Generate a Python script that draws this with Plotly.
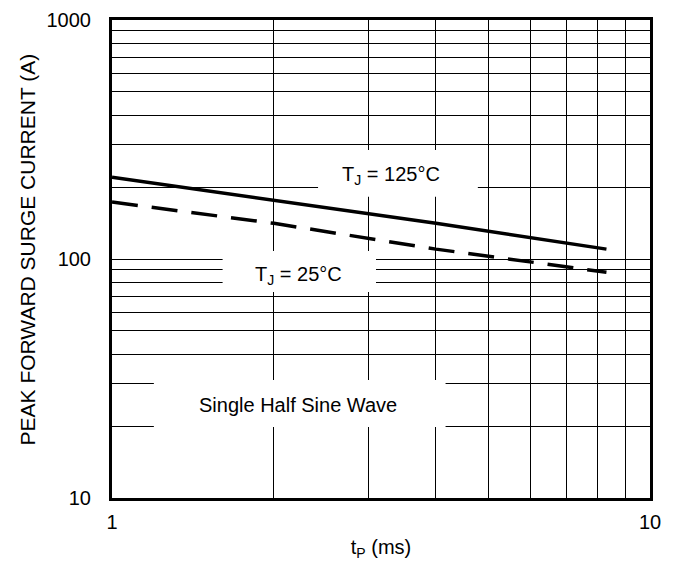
import plotly.graph_objects as go

# Data
tp_ms = [1, 2, 4, 8.3]
i_125 = [220, 176, 141, 110]
i_25 = [173, 141, 110, 88]

x_tickvals = [1, 2, 3, 4, 5, 6, 7, 8, 9, 10]
x_ticktext = ["1", "", "", "", "", "", "", "", "", "10"]
y_tickvals = [10, 20, 30, 40, 50, 60, 70, 80, 90,
              100, 200, 300, 400, 500, 600, 700, 800, 900, 1000]
y_ticktext = ["10", "", "", "", "", "", "", "", "",
              "100", "", "", "", "", "", "", "", "", "1000"]

FONT = "Arial, Liberation Sans, sans-serif"

fig = go.Figure()
fig.add_trace(go.Scatter(x=tp_ms, y=i_125, mode="lines",
                         line=dict(color="black", width=3.5), showlegend=False))
fig.add_trace(go.Scatter(x=tp_ms, y=i_25, mode="lines",
                         line=dict(color="black", width=3.5, dash="26px,14px"),
                         showlegend=False))

# white boxes behind labels (cover gridlines)
boxes = [(0.383, 0.680, 0.630, 0.728),
         (0.2056, 0.4907, 0.431, 0.5167),
         (0.0778, 0.620, 0.1485, 0.2469)]
for x0, x1, y0, y1 in boxes:
    fig.add_shape(type="rect", xref="paper", yref="paper", x0=x0, x1=x1, y0=y0, y1=y1,
                  fillcolor="white", line=dict(width=0), layer="above")

labels = [("T<sub>J</sub> = 125°C", 0.5185, 0.6757),
          ("T<sub>J</sub> = 25°C", 0.346, 0.4665),
          ("Single Half Sine Wave", 0.346, 0.1946)]
for txt, ax_, ay_ in labels:
    fig.add_annotation(x=ax_, y=ay_, xref="paper", yref="paper", text=txt,
                       showarrow=False, xanchor="center", yanchor="middle",
                       font=dict(family=FONT, size=20, color="black"))

# y-axis title
fig.add_annotation(x=-0.157, y=0.519, xref="paper", yref="paper",
                   text="PEAK FORWARD SURGE CURRENT (A)", textangle=-90,
                   showarrow=False, xanchor="center", yanchor="middle",
                   font=dict(family=FONT, size=21, color="black"))

fig.update_xaxes(type="log", range=[0, 1], tickvals=x_tickvals, ticktext=x_ticktext,
                 showgrid=True, gridcolor="black", gridwidth=1,
                 showline=True, linecolor="black", linewidth=3, mirror=True,
                 ticks="", ticklabelstandoff=4, ticklabeloverflow="allow", zeroline=False,
                 tickfont=dict(family=FONT, size=20, color="black"),
                 title=dict(text="t<sub>P</sub> (ms)", standoff=10,
                            font=dict(family=FONT, size=20, color="black")))
fig.update_yaxes(type="log", range=[1, 3], tickvals=y_tickvals, ticktext=y_ticktext,
                 showgrid=True, gridcolor="black", gridwidth=1,
                 showline=True, linecolor="black", linewidth=3, mirror=True,
                 ticks="", ticklabelstandoff=14, ticklabeloverflow="allow", zeroline=False,
                 tickfont=dict(family=FONT, size=20, color="black"))

fig.update_layout(width=668, height=553,
                  margin=dict(l=104, r=26, t=12, b=63, autoexpand=False),
                  paper_bgcolor="white", plot_bgcolor="white",
                  font=dict(family=FONT, size=20, color="black"))

fig.write_html("out.html")
